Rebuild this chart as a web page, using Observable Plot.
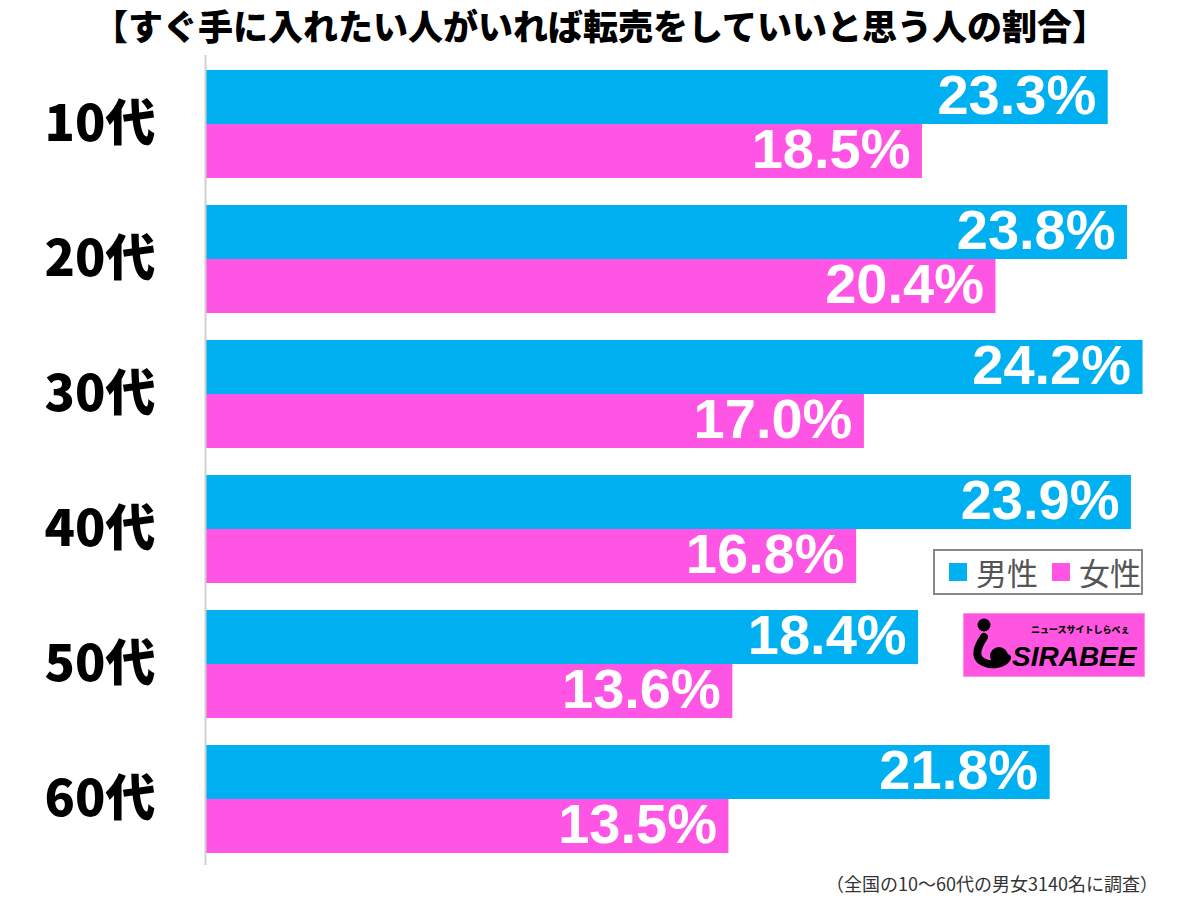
<!DOCTYPE html>
<html>
<head>
<meta charset="utf-8">
<script src="https://cdn.jsdelivr.net/npm/d3@7"></script>
<script src="https://cdn.jsdelivr.net/npm/@observablehq/plot@0.6"></script>
<style>
  html, body { margin: 0; padding: 0; background: #fff; }
  body { position: relative; width: 1200px; height: 897px; overflow: hidden; font-family: "Noto Sans CJK JP", sans-serif; }
  #title { position: absolute; left: 0; top: 3px; width: 1200px; text-align: center; font-size: 35px; font-weight: 900; line-height: 44px; color: #000; letter-spacing: 0px; }
  #chart { position: absolute; left: 0; top: 50px; }
  #legend { position: absolute; left: 933px; top: 549px; width: 206px; height: 42px; border: 2px solid #888; box-sizing: content-box; font-size: 31px; color: #555; line-height: 42px; }
  #legend .sw { position: absolute; top: 12px; width: 18px; height: 18px; }
  #legend .lb { position: absolute; top: 0; }
  #logo { position: absolute; left: 963px; top: 613px; }
  #caption { position: absolute; right: 42px; top: 871px; font-size: 18px; color: #333; line-height: 24px; }
</style>
</head>
<body>
<div id="title">【すぐ手に入れたい人がいれば転売をしていいと思う人の割合】</div>
<div id="chart"></div>
<div id="legend"></div>
<div id="logo"></div>
<div id="caption">（全国の10〜60代の男女3140名に調査）</div>
<script>
const ages = ["10代", "20代", "30代", "40代", "50代", "60代"];
const male = [23.3, 23.8, 24.2, 23.9, 18.4, 21.8];
const female = [18.5, 20.4, 17.0, 16.8, 13.6, 13.5];
const seriesNames = ["男性", "女性"];
const seriesColors = ["#00B0F0", "#FF55E4"];

const maleData = ages.map((a, i) => ({age: a, sex: seriesNames[0], value: male[i]}));
const femaleData = ages.map((a, i) => ({age: a, sex: seriesNames[1], value: female[i]}));

const half = 54;
const labelFont = {fill: "white", fontSize: 56, fontWeight: 700, fontFamily: "Liberation Sans, Arial, sans-serif", textAnchor: "end", dx: -12};
const fmt = d => d.value.toFixed(1) + "%";

const chart = Plot.plot({
  width: 1200,
  height: 820,
  marginTop: 5,
  marginBottom: 5,
  marginLeft: 206,
  marginRight: 26,
  style: {background: "transparent", color: "#000"},
  x: {domain: [0, 25], range: [206, 1173.5], axis: null},
  y: {domain: ages, range: [20, 803], paddingInner: 0.2, paddingOuter: 0, label: null},
  marks: [
    Plot.barX(maleData, {x: "value", y: "age", fill: seriesColors[0], insetBottom: half}),
    Plot.barX(femaleData, {x: "value", y: "age", fill: seriesColors[1], insetTop: half}),
    Plot.ruleX([0], {stroke: "#cfcfcf", strokeWidth: 2, dx: -1}),
    Plot.text(maleData, {x: "value", y: "age", text: fmt, dy: -half / 2 - 1, ...labelFont}),
    Plot.text(femaleData, {x: "value", y: "age", text: fmt, dy: half / 2 - 1, ...labelFont}),
    Plot.axisY({anchor: "left", tickSize: 0, tickPadding: 51, fontSize: 50, fontWeight: 900, fontFamily: "Noto Sans CJK JP, sans-serif", label: null})
  ]
});
document.getElementById("chart").appendChild(chart);
chart.querySelectorAll("[aria-label='y-axis tick label'] text, g[aria-label='y-axis tick label']").forEach(el => {
  el.setAttribute("font-weight", "900");
  el.setAttribute("fill", "#000");
});

// legend
const legend = document.getElementById("legend");
const swX = [14, 117];
const lbX = [41, 144];
seriesNames.forEach((n, i) => {
  const sw = document.createElement("div");
  sw.className = "sw";
  sw.style.left = swX[i] + "px";
  sw.style.background = seriesColors[i];
  legend.appendChild(sw);
  const lb = document.createElement("div");
  lb.className = "lb";
  lb.style.left = lbX[i] + "px";
  lb.textContent = n;
  legend.appendChild(lb);
});

// logo
document.getElementById("logo").innerHTML = `
<svg width="182" height="64" xmlns="http://www.w3.org/2000/svg">
  <rect x="0.5" y="0.5" width="181" height="63" fill="#FF55E0" stroke="#ff8fe9"/>
  <circle cx="21" cy="12" r="6.5" fill="#000"/>
  <path d="M21,24 C15,33 10,44 20,49 C28,53 40,52 44,45" fill="none" stroke="#000" stroke-width="8" stroke-linecap="round"/>
  <circle cx="36" cy="43" r="9" fill="#000"/>
  <text x="68" y="20" font-size="9" font-weight="900" font-family="Noto Sans CJK JP" fill="#000">ニュースサイトしらべぇ</text>
  <text x="49" y="53" font-size="28" font-weight="900" font-style="italic" font-family="Liberation Sans, Arial" fill="#000">SIRABEE</text>
</svg>`;
</script>
</body>
</html>
